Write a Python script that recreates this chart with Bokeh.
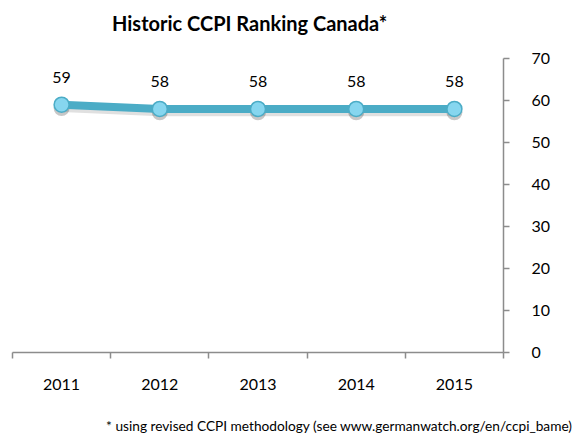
from bokeh.plotting import figure
from bokeh.models import (FixedTicker, Range1d, LinearAxis, LabelSet, Div,
                          ColumnDataSource)
from bokeh.layouts import column
from bokeh.core.properties import value
from bokeh.embed import file_html
from bokeh.resources import INLINE

years = ["2011", "2012", "2013", "2014", "2015"]
ranking = [59, 58, 58, 58, 58]
y_ticks = [0, 10, 20, 30, 40, 50, 60, 70]
title_text = "Historic CCPI Ranking Canada*"
note_text = "* using revised CCPI methodology (see www.germanwatch.org/en/ccpi_bame)"

FONT = "Lato"
AXIS_COLOR = "#8c8c8c"
LINE_COLOR = "#4BACC6"
W = 574

xs = list(range(1, len(years) + 1))
src = ColumnDataSource(dict(x=xs, y=ranking, lab=[str(v) for v in ranking],
                            ys=[v - 0.8 for v in ranking]))

title_div = Div(
    text=f'<div style="font-family:{FONT};font-weight:bold;font-size:20px;'
         f'color:black;padding-left:112px;padding-top:9px;white-space:nowrap;">{title_text}</div>',
    width=W, height=48, margin=(0, 0, 0, 0))

p = figure(width=W, height=354, output_backend="svg", toolbar_location=None,
           x_range=Range1d(0.5, len(years) + 0.5), y_range=Range1d(0, 70),
           y_axis_location=None, x_axis_location=None,
           min_border_left=12, min_border_right=71, min_border_top=10,
           min_border_bottom=50, margin=(0, 0, 0, 0))
p.grid.visible = False
p.outline_line_color = None
p.background_fill_color = "white"
p.border_fill_color = "white"

# x axis
xa = LinearAxis(ticker=FixedTicker(ticks=xs, minor_ticks=[i + 0.5 for i in range(0, len(years) + 1)]))
xa.major_label_overrides = {x: y for x, y in zip(xs, years)}
xa.major_tick_out = 0
xa.major_tick_in = 0
xa.minor_tick_out = 6
xa.minor_tick_in = 0
xa.minor_tick_line_color = AXIS_COLOR
xa.minor_tick_line_width = 1.5
xa.axis_line_color = AXIS_COLOR
xa.axis_line_width = 1.5
xa.major_label_text_font = FONT
xa.major_label_text_font_size = "16px"
xa.major_label_text_color = "black"
xa.major_label_standoff = 20
p.add_layout(xa, "below")

# y axis on right
ya = LinearAxis(ticker=FixedTicker(ticks=y_ticks, minor_ticks=[]))
ya.major_tick_out = 6
ya.major_tick_in = 0
ya.major_tick_line_color = AXIS_COLOR
ya.major_tick_line_width = 1.5
ya.axis_line_color = AXIS_COLOR
ya.axis_line_width = 1.5
ya.major_label_text_font = FONT
ya.major_label_text_font_size = "16px"
ya.major_label_text_color = "black"
ya.major_label_standoff = 22
p.add_layout(ya, "right")

# shadows
p.line("x", "ys", source=src, line_color="#000000", line_alpha=0.12, line_width=8)
p.scatter("x", "ys", source=src, size=16, fill_color="#000000", fill_alpha=0.22,
          line_color=None)
# series
p.line("x", "y", source=src, line_color=LINE_COLOR, line_width=8)
p.scatter("x", "y", source=src, size=15, fill_color="#86d6ef",
          line_color=LINE_COLOR, line_width=1.5)

labels = LabelSet(x="x", y="y", text="lab", source=src, y_offset=22,
                  text_align="center", text_baseline="alphabetic",
                  text_font=value(FONT), text_font_size="16px", text_color="black")
p.add_layout(labels)

note_div = Div(
    text=f'<div style="font-family:{FONT};font-size:13.7px;color:black;'
         f'text-align:right;width:{W - 2}px;padding-top:14px;white-space:nowrap;">{note_text}</div>',
    width=W, height=40, margin=(0, 0, 0, 0))

layout = column(title_div, p, note_div, spacing=0)

open("out.html", "w").write(file_html(layout, INLINE))
